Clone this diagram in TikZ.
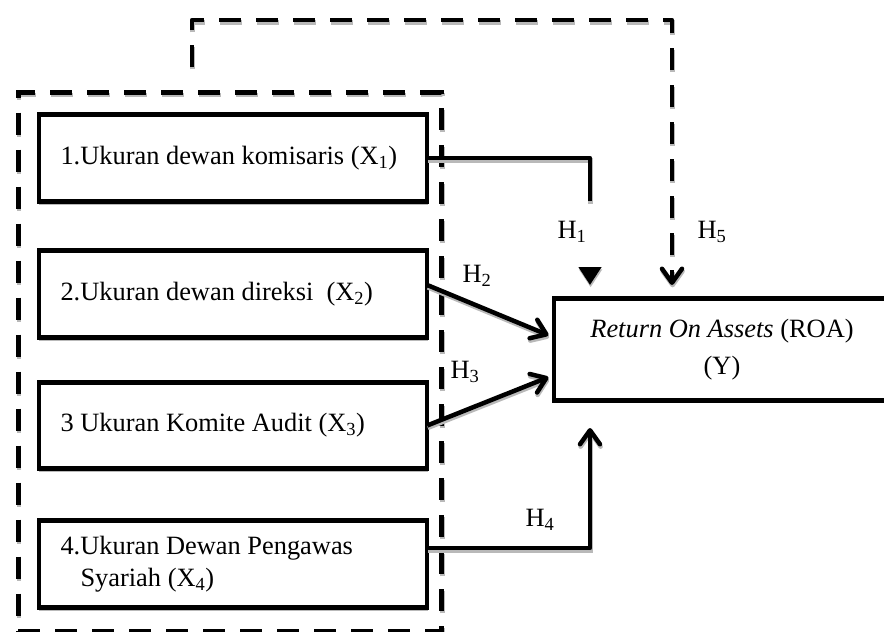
\documentclass[tikz,border=0pt]{standalone}
\usepackage{fontspec}
\setmainfont{Liberation Serif}
\usetikzlibrary{arrows.meta,positioning,fit,shadows}

\begin{document}
\begin{tikzpicture}[x=1pt,y=-1pt,line width=4.5pt,>={Straight Barb[length=14pt,width=20pt,round]},
    font=\fontsize{26.4}{32}\selectfont,node distance=45pt,
    shade/.style={preaction={draw=gray!55,transform canvas={xshift=0.6pt,yshift=-2.4pt},#1}},
    shade/.default={},
    factor/.style={draw,fill=white,outer sep=0pt,inner xsep=21.7pt,text width=345pt,align=flush left,
        minimum height=87pt,drop shadow={shadow xshift=0.6pt,shadow yshift=-3.6pt,fill=gray!55,opacity=1}},
    target/.style={draw,fill=white,outer sep=0pt,minimum width=336pt,minimum height=102pt,align=flush center},
    groupbox/.style={draw,shade={dash pattern=on 22pt off 15pt},dash pattern=on 22pt off 15pt,
        inner xsep=17.5pt,inner ysep=23pt},
    link/.style={shade,line join=round},
    dashlink/.style={shade={dash pattern=on 22pt off 15pt},line join=round,dash pattern=on 22pt off 15pt}]

                \useasboundingbox (0,0) rectangle (884,632);

                \node[factor] (k1) at (233,158) {1.Ukuran dewan komisaris (X\textsubscript{1})};

                \node[factor] (k2) [below=49pt of k1] {2.Ukuran dewan direksi~ (X\textsubscript{2})};

                \node[factor,minimum height=86pt] (k3) [below=45pt of k2] {3 Ukuran Komite Audit (X\textsubscript{3})};

                \node[factor] (k4) [below=52pt of k3] {4.Ukuran Dewan Pengawas\\\hspace*{20pt}Syariah (X\textsubscript{4})};

                \node[groupbox,fit=(k1)(k4),xshift=-3pt,yshift=-1pt] (grp) {};

                \node[target] (roa) at (722,349.5) {\textit{Return On Assets} (ROA)\\[5pt](Y)};

                \coordinate (h5from) at (192,67);

                \coordinate (h5turn) at (192,20);

                

                \draw[shade={dash pattern=on 206pt off 200pt},line join=round,-{Triangle[length=18pt,width=22pt]},
                    dash pattern=on 206pt off 200pt,shorten >=13.5pt]
                    (k1.east) -| ([xshift=36pt]roa.north west);

                \foreach \from/\dy/\ey in {k2/9/12, k3/0/-25.5}
                    {
                    \draw[->,link,shorten >=6pt] ([yshift=\dy pt]\from.east) -- ([yshift=\ey pt]roa.west);
                    }

                \draw[->,link,shorten >=27.5pt] ([yshift=16pt]k4.east) -| ([xshift=36pt]roa.south west);

                \draw[->,dashlink,shorten >=13.5pt] (h5from) -- (h5turn) -| ([xshift=118pt]roa.north west);

                

                \node (h1) at (572,232) {H\textsubscript{1}};

                \node (h2) at (477,276) {H\textsubscript{2}};

                \node (h3) at (465,372) {H\textsubscript{3}};

                \node (h4) at (540,520) {H\textsubscript{4}};

                \node (h5) at (712,232) {H\textsubscript{5}};

            \end{tikzpicture}
\end{document}
